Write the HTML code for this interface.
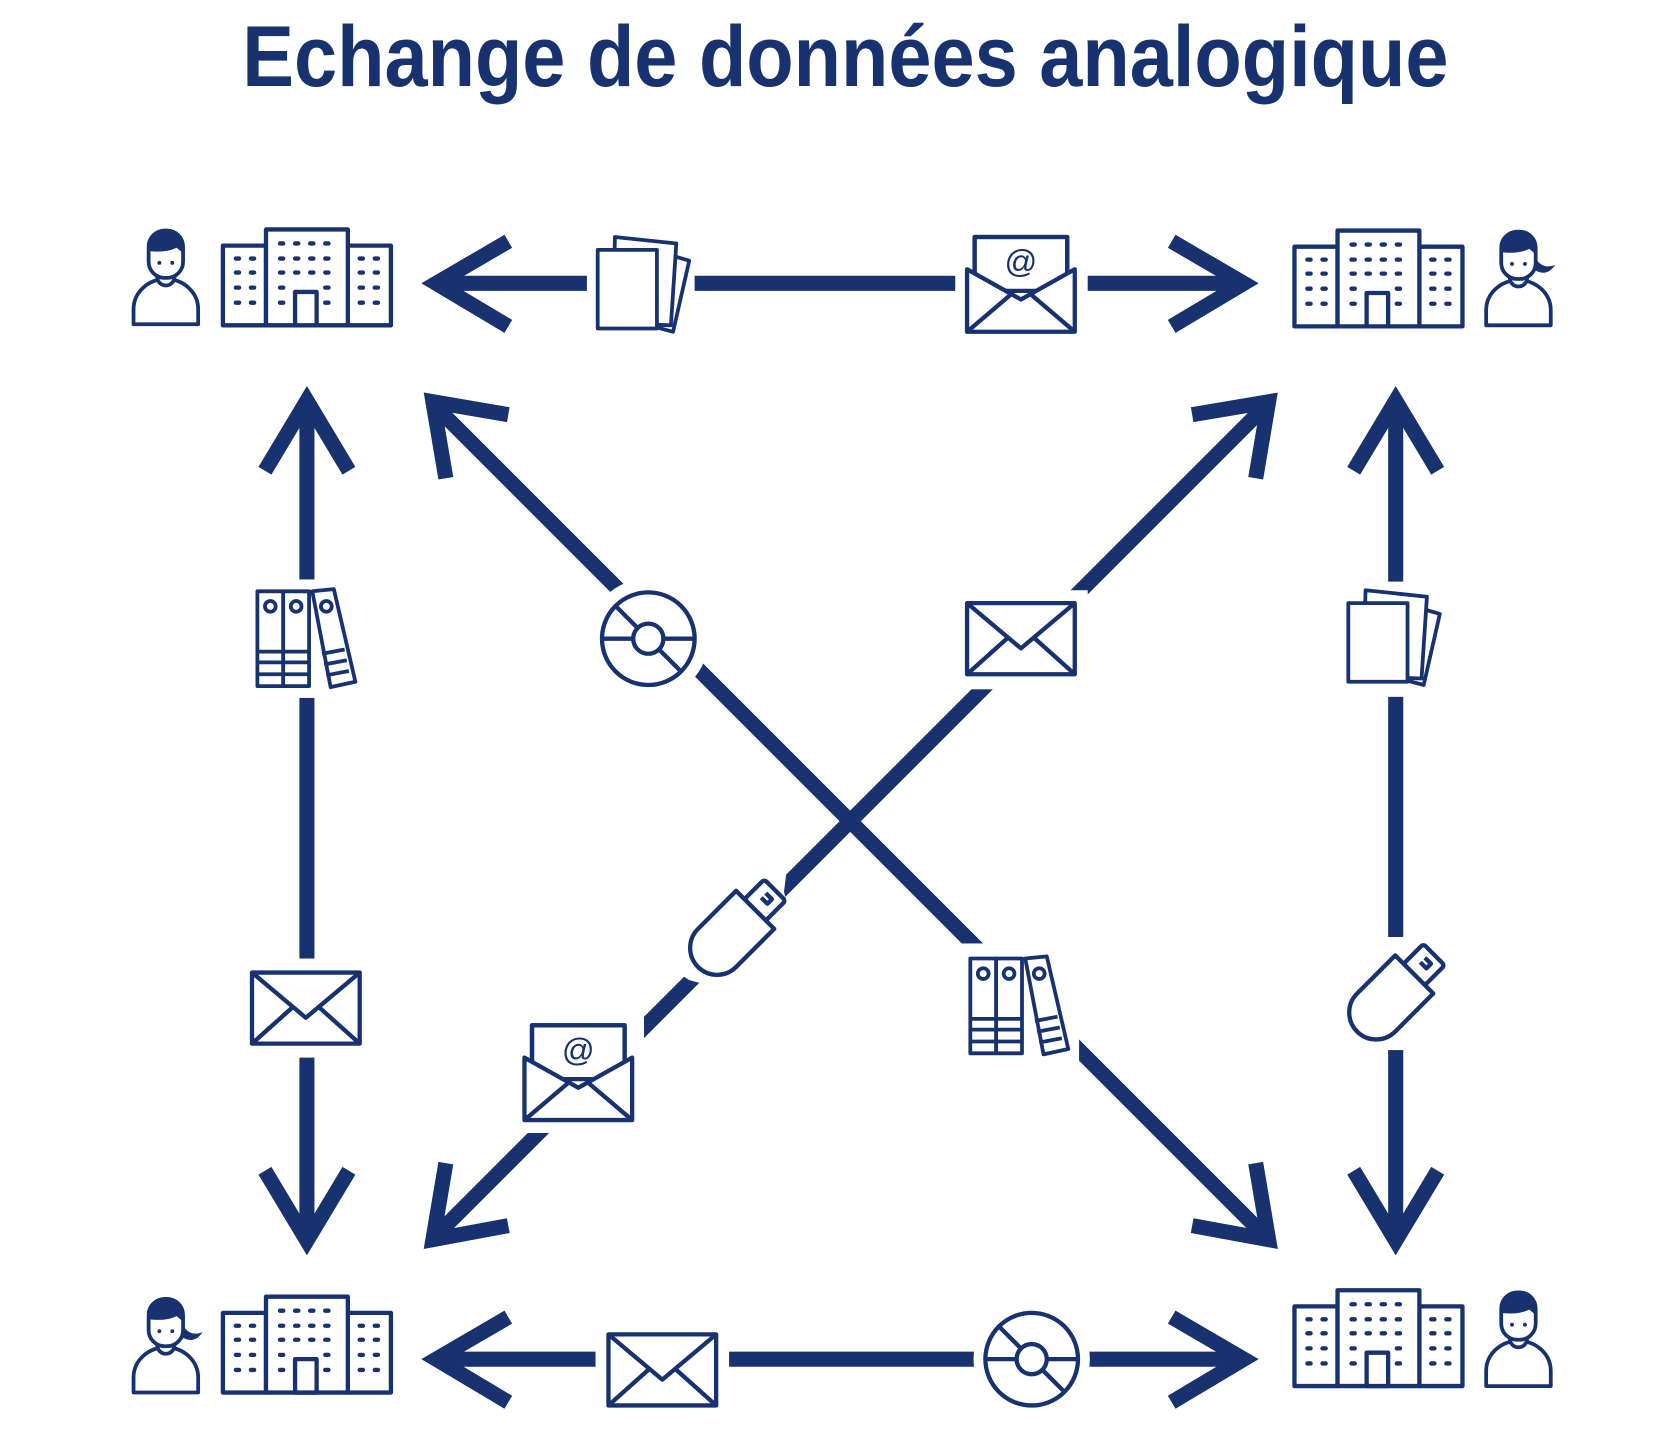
<!DOCTYPE html>
<html><head><meta charset="utf-8"><style>
html,body{margin:0;padding:0;background:#fff;}
svg{display:block;}
</style></head><body>
<svg width="1680" height="1440" viewBox="0 0 1560 1337" xmlns="http://www.w3.org/2000/svg">
<defs>
<symbol id="bld" overflow="visible">
 <g fill="#fff" stroke="#18326f" stroke-width="4" stroke-linejoin="round">
  <rect x="0" y="15" width="40" height="74"/>
  <rect x="116" y="15" width="40" height="74"/>
  <rect x="40" y="0" width="76" height="89"/>
  <rect x="67" y="58" width="20" height="31"/>
 </g>
 <g fill="#18326f">
  <rect x="51" y="11" width="7" height="4" rx="2"/><rect x="65" y="11" width="7" height="4" rx="2"/><rect x="79" y="11" width="7" height="4" rx="2"/><rect x="93" y="11" width="7" height="4" rx="2"/>
  <rect x="51" y="25" width="7" height="4" rx="2"/><rect x="65" y="25" width="7" height="4" rx="2"/><rect x="79" y="25" width="7" height="4" rx="2"/><rect x="93" y="25" width="7" height="4" rx="2"/>
  <rect x="51" y="38" width="7" height="4" rx="2"/><rect x="65" y="38" width="7" height="4" rx="2"/><rect x="79" y="38" width="7" height="4" rx="2"/><rect x="93" y="38" width="7" height="4" rx="2"/>
  <rect x="51" y="52" width="7" height="4" rx="2"/><rect x="93" y="52" width="7" height="4" rx="2"/>
  <rect x="51" y="66" width="7" height="4" rx="2"/><rect x="93" y="66" width="7" height="4" rx="2"/>
  <rect x="10" y="25" width="7" height="4" rx="2"/><rect x="24" y="25" width="7" height="4" rx="2"/>
  <rect x="10" y="38" width="7" height="4" rx="2"/><rect x="24" y="38" width="7" height="4" rx="2"/>
  <rect x="10" y="52" width="7" height="4" rx="2"/><rect x="24" y="52" width="7" height="4" rx="2"/>
  <rect x="10" y="66" width="7" height="4" rx="2"/><rect x="24" y="66" width="7" height="4" rx="2"/>
  <rect x="125" y="25" width="7" height="4" rx="2"/><rect x="139" y="25" width="7" height="4" rx="2"/>
  <rect x="125" y="38" width="7" height="4" rx="2"/><rect x="139" y="38" width="7" height="4" rx="2"/>
  <rect x="125" y="52" width="7" height="4" rx="2"/><rect x="139" y="52" width="7" height="4" rx="2"/>
  <rect x="125" y="66" width="7" height="4" rx="2"/><rect x="139" y="66" width="7" height="4" rx="2"/>
 </g>
</symbol>
<symbol id="man" overflow="visible">
 <g stroke="#18326f" stroke-width="3.5" fill="#fff" stroke-linejoin="round">
  <path d="M2,88 L2,74 A30,28 0 0 1 62,74 L62,88 Z"/>
  <path d="M24,44 A8,8 0 0 0 40,44"/>
  <rect x="16" y="1" width="32" height="44" rx="15"/>
 </g>
 <path d="M16,16 A16,15 0 0 1 48,16 L48,22 L42,17 Q32,22 16,20 Z" fill="#18326f"/>
 <circle cx="26" cy="31" r="1.8" fill="#18326f"/><circle cx="38" cy="31" r="1.8" fill="#18326f"/>
</symbol>
<symbol id="woman" overflow="visible">
 <path d="M44,16 Q50,38 66,32 Q58,44 46,36 Z" fill="#18326f"/>
 <use href="#man"/>
</symbol>
<symbol id="env" overflow="visible">
 <g fill="#fff" stroke="#18326f" stroke-width="4" stroke-linejoin="round">
  <rect x="0" y="0" width="100" height="66"/>
  <path d="M0,0 L50,42 L100,0 M0,66 L38,32 M100,66 L62,32" fill="none"/>
 </g>
</symbol>
<symbol id="enva" overflow="visible">
 <g fill="#fff" stroke="#18326f" stroke-width="4" stroke-linejoin="round">
  <rect x="7" y="0" width="86" height="50"/>
  <path d="M0,30 L0,88 L100,88 L100,30 L50,58 Z"/>
  <path d="M0,88 L40,54 M100,88 L60,54" fill="none"/>
  <path d="M7,34 L7,0 L93,0 L93,34" fill="none"/>
 </g>
 <text x="50" y="33" font-family="Liberation Sans, sans-serif" font-size="30" fill="#18326f" text-anchor="middle">@</text>
</symbol>
<symbol id="pap" overflow="visible">
 <g fill="#fff" stroke="#18326f" stroke-width="3.5" stroke-linejoin="round">
  <path d="M68,17 L85,22 L70,88 L55,84 Z"/>
  <path d="M16,0 L73,6 L68,82 L14,80 Z"/>
  <rect x="0" y="12" width="55" height="73"/>
 </g>
</symbol>
<symbol id="bind" overflow="visible">
 <g fill="#fff" stroke="#18326f" stroke-width="3.5" stroke-linejoin="round">
  <path d="M52,2 L72,0 L92,86 L69,91 Z"/>
  <rect x="1" y="2" width="24" height="88"/>
  <rect x="25" y="2" width="24" height="88"/>
  <circle cx="13" cy="16" r="5"/><circle cx="37" cy="16" r="5"/>
  <circle cx="65" cy="16" r="5"/>
  <path d="M1,58 H49 M1,68 H49 M1,79 H49 M61,60 L82,56 M63,70 L84,66 M65,80 L86,76" fill="none"/>
 </g>
</symbol>
<symbol id="cd" overflow="visible">
 <g fill="#fff" stroke="#18326f" stroke-width="4">
  <circle cx="0" cy="0" r="43"/>
  <path d="M-43,0 H-14 M14,0 H43 M-30,-30 L-10,-10 M10,10 L29,29" fill="none"/>
  <circle cx="0" cy="0" r="14"/>
 </g>
</symbol>
<symbol id="usb" overflow="visible">
 <g fill="#fff" stroke="#18326f" stroke-width="4" stroke-linejoin="round" transform="rotate(45)">
  <rect x="-14" y="-56" width="28" height="26" rx="3"/>
  <path d="M-4,-48 H4 V-42 H-4" fill="none"/>
  <path d="M-25,-30 L25,-30 L25,20 A25,25 0 0 1 -25,20 Z"/>
 </g>
</symbol>
</defs>

<text x="785" y="80" font-family="Liberation Sans, sans-serif" font-weight="bold" font-size="80" fill="#18326f" text-anchor="middle" textLength="1120" lengthAdjust="spacingAndGlyphs">Echange de données analogique</text>

<g stroke="#18326f" stroke-width="14" fill="none">
 <!-- top row -->
 <path d="M405,263 H1155"/>
 <path d="M472,224 L405,263 L472,303"/>
 <path d="M1088,224 L1155,263 L1088,303"/>
 <!-- bottom row -->
 <path d="M405,1262 H1155"/>
 <path d="M472,1223 L405,1262 L472,1302"/>
 <path d="M1088,1223 L1155,1262 L1088,1302"/>
 <!-- left vertical -->
 <path d="M285,372 V1150"/>
 <path d="M246,437 L285,372 L324,437"/>
 <path d="M246,1087 L285,1152 L324,1087"/>
 <!-- right vertical -->
 <path d="M1296,372 V1150"/>
 <path d="M1257,437 L1296,372 L1335,437"/>
 <path d="M1257,1087 L1296,1152 L1335,1087"/>
 <!-- diagonal A -->
 <path d="M402,375 L1177,1150"/>
 <path d="M472,385 L402,373 L414,444"/>
 <path d="M1107,1138 L1178,1151 L1166,1080"/>
 <!-- diagonal B -->
 <path d="M402,1150 L1177,375"/>
 <path d="M414,1080 L402,1151 L472,1138"/>
 <path d="M1107,385 L1178,373 L1166,444"/>
</g>

<!-- gaps (white masks) -->
<g fill="#fff">
 <rect x="545" y="210" width="100" height="110"/>
 <rect x="887" y="210" width="123" height="110"/>
 <rect x="553" y="1225" width="124" height="90"/>
 <circle cx="958" cy="1262" r="54"/>
 <rect x="225" y="538" width="115" height="110"/>
 <rect x="222" y="890" width="125" height="92"/>
 <rect x="1240" y="540" width="110" height="107"/>
 <rect x="1240" y="870" width="110" height="105"/>
 <circle cx="602" cy="593" r="56"/>
 <rect x="888" y="548" width="122" height="92"/>
 <rect x="890" y="876" width="112" height="118" transform="rotate(0)"/>
 <rect x="478" y="944" width="120" height="108"/>
 <path d="M728,828 L730,812 L700,800 L640,860 L625,900 L640,910 L670,918 L735,855 Z"/>
</g>

<!-- nodes -->
<use href="#man" x="122" y="213"/>
<use href="#bld" x="207" y="213"/>
<use href="#bld" x="1202" y="214"/>
<use href="#woman" x="1378" y="214"/>
<use href="#woman" x="122" y="1205"/>
<use href="#bld" x="207" y="1204"/>
<use href="#bld" x="1202" y="1198"/>
<use href="#man" x="1378" y="1199"/>

<!-- icons -->
<use href="#pap" x="555" y="220"/>
<use href="#enva" x="898" y="220"/>
<use href="#env" x="565" y="1239"/>
<use href="#cd" x="958" y="1262"/>
<use href="#bind" x="238" y="547"/>
<use href="#env" x="234" y="903"/>
<use href="#pap" x="1252" y="548"/>
<use href="#usb" x="1292" y="926"/>
<use href="#cd" x="602" y="593"/>
<use href="#env" x="898" y="560"/>
<use href="#usb" x="680" y="866"/>
<use href="#bind" x="900" y="888"/>
<use href="#enva" x="487" y="952"/>
</svg>
</body></html>
